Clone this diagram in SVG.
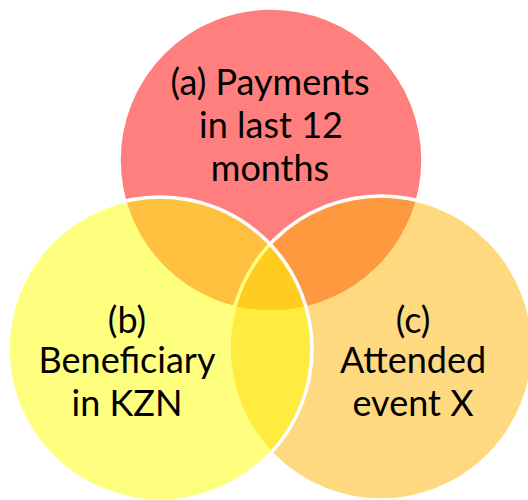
<svg xmlns="http://www.w3.org/2000/svg" width="528" height="500" viewBox="0 0 528 500">
<style>
.c{stroke:#FFFFFF;stroke-width:3.5;fill-opacity:0.5}
.t{font-family:Lato,"Open Sans","Liberation Sans",sans-serif;font-size:36px;fill:#000000;text-anchor:middle}
</style>
<rect width="528" height="500" fill="#FFFFFF"/>
<g id="node-a">
<circle class="c" cx="271" cy="160" r="152" fill="#FF0000"/>
<text class="t" x="270" y="95">(a) Payments</text>
<text class="t" x="271" y="138">in last 12</text>
<text class="t" x="270" y="181">months</text>
</g>
<g id="node-c">
<circle class="c" cx="381" cy="348" r="152" fill="#FFB400"/>
<text class="t" x="413" y="333">(c)</text>
<text class="t" x="413" y="373">Attended</text>
<text class="t" x="413" y="416">event X</text>
</g>
<g id="node-b">
<circle class="c" cx="160" cy="349" r="152" fill="#FFFF00"/>
<text class="t" x="127" y="333">(b)</text>
<text class="t" x="127" y="373">Beneficiary</text>
<text class="t" x="127" y="416">in KZN</text>
</g>
<g id="connectors"/>
</svg>
